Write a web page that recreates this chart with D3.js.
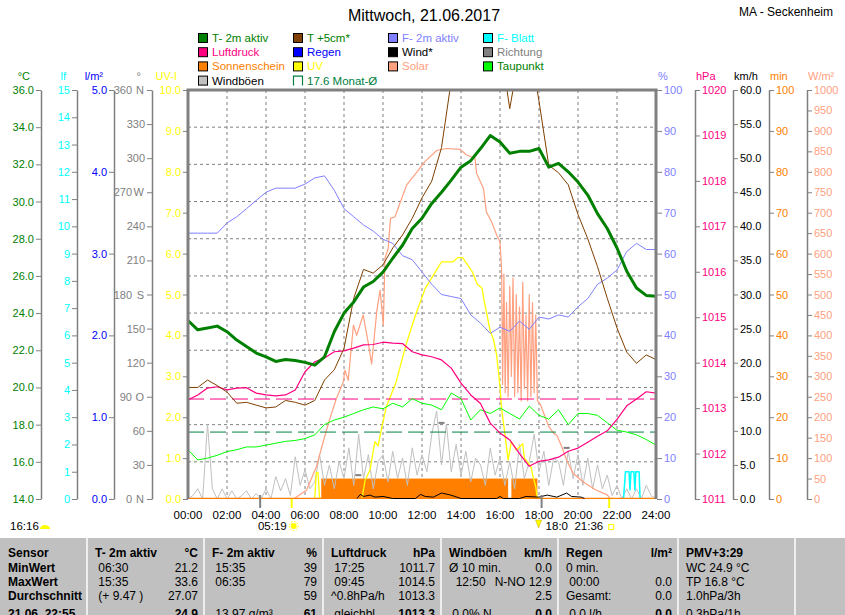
<!DOCTYPE html>
<html>
<head>
<meta charset="utf-8">
<script src="https://cdn.jsdelivr.net/npm/d3@7"></script>
<style>
body { margin: 0; background: #fff; }
svg { display: block; font-family: "Liberation Sans", Arial, sans-serif; }
</style>
</head>
<body>
<div id="chart"></div>
<script>
// ---- data ----
var times30 = ["00:00","00:30","01:00","01:30","02:00","02:30","03:00","03:30","04:00","04:30",
  "05:00","05:30","06:00","06:30","07:00","07:30","08:00","08:30","09:00","09:30",
  "10:00","10:30","11:00","11:30","12:00","12:30","13:00","13:30","14:00","14:30",
  "15:00","15:30","16:00","16:30","17:00","17:30","18:00","18:30","19:00","19:30",
  "20:00","20:30","21:00","21:30","22:00","22:30","23:00","23:30","24:00"];

var temp2m = [23.6,23.1,23.2,23.3,23.0,22.55,22.2,21.85,21.65,21.4,
  21.5,21.45,21.35,21.2,21.65,23.0,24.0,24.6,25.4,25.7,
  26.2,26.95,27.65,28.55,29.1,29.9,30.5,31.15,31.85,32.2,
  32.85,33.55,33.2,32.6,32.7,32.7,32.85,31.85,32.05,31.6,
  31.05,30.35,29.35,28.55,27.5,26.25,25.35,24.95,24.9];

var temp5cm = [20.0,20.0,20.4,20.1,19.75,19.15,19.2,19.05,18.9,18.95,
  19.3,19.2,19.05,19.3,20.4,20.95,22.1,24.8,26.35,26.15,
  26.6,27.5,28.2,29.1,30.2,31.1,32.9,36.5,39.0,40.5,
  41.0,40.5,38.5,35.0,38.0,38.5,35.4,31.95,31.55,30.9,
  29.3,28.0,26.5,24.8,23.2,21.9,21.3,21.75,21.5];

var hum2m = [65,65,65,65,67.5,69,71,73,75,76,
  76,76,77,78.5,79,75.5,71,69,67,65.5,
  63.5,62.5,59.5,58.5,55.5,52.5,50,49.5,49,45,
  43,40.5,42,41,43.5,41.5,44.5,44,45,44.5,
  47,49,52.5,54,56,60.5,62.5,61,61];

var pressure = [1013.18,1013.29,1013.44,1013.47,1013.4,1013.44,1013.45,1013.33,1013.29,1013.27,
  1013.29,1013.4,1013.8,1014.02,1014.1,1014.24,1014.26,1014.32,1014.39,1014.4,
  1014.45,1014.43,1014.42,1014.24,1014.17,1014.13,1014.06,1013.88,1013.55,1013.29,
  1013.1,1012.67,1012.45,1012.3,1012.0,1011.72,1011.83,1011.86,1011.92,1012.05,
  1012.12,1012.25,1012.38,1012.5,1012.75,1013.05,1013.2,1013.36,1013.33];

var dewPoint = [16.65,16.1,16.2,16.35,16.55,16.65,16.8,16.8,16.9,17.0,
  17.1,17.15,17.25,17.45,18.0,18.25,18.4,18.6,18.8,18.95,
  18.85,19.15,18.95,19.4,19.15,19.05,18.8,19.7,19.4,18.25,
  18.8,18.6,18.9,18.6,18.3,19.0,18.5,18.3,18.8,18.0,
  18.6,18.6,18.5,18.1,17.7,17.6,17.45,17.2,16.9];

// gusts km/h, one value per 15 minutes starting 00:00
var gust15 = [0,0.5,1.5,0, 11.0,1.5,0,1.5, 0,1.2,0,0.5, 1.2,0,0.8,0,
  1.5,0,3.3,1.2, 3.0,0.5,6.2,2.0, 4.3,1.5,2.5,6.5, 2.0,5.0,1.5,5.5,
  3.0,7.5,2.0,9.5, 3.0,6.5,1.5,5.5, 6.5,2.5,7.0,3.0, 6.0,2.0,7.5,3.5,
  6.5,4.0,9.5,12.9, 5.0,11.0,4.0,8.0, 3.5,7.0,2.5,6.0, 5.0,2.0,7.5,3.5,
  6.0,2.0,5.5,1.5, 8.0,3.0,5.5,9.5, 4.0,7.0,2.0,6.0, 5.5,2.0,7.0,3.0,
  6.5,2.0,6.0,1.5, 5.0,1.5,3.5,0.5, 2.0,0,1.5,0, 1.5,0,2.0,0.5, 0];

var uvIndex = [["00:00",0],["06:30",0],["06:35",0.65],["06:40",0.65],["06:45",0],["08:55",0],
  ["09:05",0.46],["09:20",0.71],["09:35",1.4],["09:45",1.3],["09:55",1.7],["10:10",2.25],
  ["10:40",2.85],["11:10",3.75],["11:40",4.5],["12:10",5.15],["12:45",5.6],["13:00",5.8],
  ["13:35",5.8],["13:50",5.9],["14:05",5.9],["14:35",5.55],["14:50",5.25],["15:05",5.15],
  ["15:10",4.9],["15:20",4.5],["15:30",4.1],["15:40",3.9],["15:50",3.5],["16:00",2.75],
  ["16:05",2.2],["16:15",1.6],["16:25",0.95],["16:35",1.4],["16:50",1.2],["17:10",1.35],
  ["17:15",1.0],["17:35",0.8],["17:40",0.6],["17:50",0.3],["17:55",0],["24:00",0]];

var solar = [["00:00",0],["05:25",0],["06:05",22],["06:35",79],["06:55",137],["07:15",193],
  ["07:35",242],["07:58",287],["08:03",315],["08:13",290],["08:29",425],["08:39",400],
  ["08:59",450],["09:15",380],["09:25",330],["09:41",460],["09:51",511],["10:01",425],
  ["10:06",588],["10:16",613],["10:23",686],["10:37",690],["10:52",723],["11:13",768],
  ["11:44",799],["12:09",825],["12:45",852],["13:16",857],["13:57",855],["14:17",841],
  ["14:43",833],["14:48",796],["15:09",760],["15:18",702],["15:34",678],["15:50",645],
  ["16:00",629],["16:05",560],["16:08",280],["16:12",550],["16:16",260],["16:20",480],
  ["16:25",250],["16:30",520],["16:35",300],["16:40",540],["16:45",250],["16:50",500],
  ["16:55",260],["17:00",470],["17:05",240],["17:10",530],["17:15",270],["17:20",450],
  ["17:25",240],["17:30",500],["17:35",250],["17:40",480],["17:45",260],["17:50",450],
  ["17:55",240],["18:05",230],["18:30",177],["18:45",161],["18:55",156],["19:10",128],
  ["19:25",95],["19:45",63],["20:15",42],["20:55",22],["21:30",10],["21:40",0],["24:00",0]];

var wind = [["08:40",0],["08:50",0.6],["09:00",0.3],["09:20",0.5],["09:35",0.2],["10:00",0.3],
  ["10:30",0],["11:40",0],["11:55",0.6],["12:10",0.3],["12:35",0.2],["13:00",0.8],
  ["13:20",0.6],["13:35",0.4],["14:00",0],["15:50",0],["16:00",0.3],["16:10",0],
  ["17:00",0],["17:20",0.3],["18:00",0.2],["18:25",0.5],["18:55",0.2],["19:25",0.8],
  ["19:40",0.3],["20:10",0.2],["20:20",0]];

var leafWet = [["22:20",0],["22:26",1],["22:37",1],["22:40",0.33],["22:43",1],["22:52",1],
  ["22:55",0.33],["22:58",1],["23:08",1],["23:11",0]];

var windDir = [["08:44",21],["13:00",67],["19:25",45]];

var sunPeriods = [["06:50","16:25"],["16:35","17:55"]];
var sunPerSlot = 5; // minutes of sunshine per 5-min slot

var monthMean = 17.6;   // Monat-Ø °C
var pressureMean = 1013.2;

var sunrise = "05:19", sunset = "21:36", moonMark = "18:08", moonMark2 = "03:42";

var ticksC = [14,16,18,20,22,24,26,28,30,32,34,36];
var ticksLf = [0,1,2,3,4,5,6,7,8,9,10,11,12,13,14,15];
var ticksRain = [0,1,2,3,4,5];
var ticksDir = [0,30,60,90,120,150,180,210,240,270,300,330,360];
var ticksUV = [0,1,2,3,4,5,6,7,8,9,10];
var ticksHum = [0,10,20,30,40,50,60,70,80,90,100];
var ticksHpa = [1011,1012,1013,1014,1015,1016,1017,1018,1019,1020];
var ticksKmh = [0,5,10,15,20,25,30,35,40,45,50,55,60];
var ticksMin = [0,10,20,30,40,50,60,70,80,90,100];
var ticksSol = [0,50,100,150,200,250,300,350,400,450,500,550,600,650,700,750,800,850,900,950,1000];
var timeTicks = [0,2,4,6,8,10,12,14,16,18,20,22,24];

var legendNames = [["T- 2m aktiv","Luftdruck","Sonnenschein","Windböen"],
  ["T +5cm*","Regen","UV",monthMean + " Monat-Ø"],
  ["F- 2m aktiv","Wind*","Solar"],
  ["F- Blatt","Richtung","Taupunkt"]];

var tableRowLabels = ["Sensor","MinWert","MaxWert","Durchschnitt","21.06. 22:55"];
var tableLeft = [
  ["T- 2m aktiv"," 06:30"," 15:35"," (+ 9.47 )",""],
  ["F- 2m aktiv"," 15:35"," 06:35",""," 13.97 g/m³"],
  ["Luftdruck"," 17:25"," 09:45","^0.8hPa/h"," gleichbl."],
  ["Windböen","Ø 10 min.","  12:50",""," 0.0% N"],
  ["Regen","0 min."," 00:00","Gesamt:"," 0.0 l/h"],
  ["PMV+3:29","WC 24.9 °C","TP 16.8 °C","1.0hPa/3h","0.3hPa/1h"]];
var tableRight = [
  ["°C","21.2","33.6","27.07","24.9"],
  ["%","39","79","59","61"],
  ["hPa","1011.7","1014.5","1013.3","1013.3"],
  ["km/h","0.0","N-NO 12.9","2.5","0.0"],
  ["l/m²","","0.0","0.0","0.0"],
  ["","","","",""]];

// ---- styles ----
var legendStyle = {
  "T- 2m aktiv": {sq: "#008000", txt: "#008000"},
  "Luftdruck": {sq: "#ff0080", txt: "#ff0080"},
  "Sonnenschein": {sq: "#ff8000", txt: "#ff8000"},
  "Windböen": {sq: "#c0c0c0", txt: "#000000"},
  "T +5cm*": {sq: "#804000", txt: "#008000"},
  "Regen": {sq: "#0000ff", txt: "#0000ff"},
  "UV": {sq: "#ffff00", txt: "#ffff00"},
  "F- 2m aktiv": {sq: "#8080ff", txt: "#8080ff"},
  "Wind*": {sq: "#000000", txt: "#000000"},
  "Solar": {sq: "#ffa080", txt: "#ffa080"},
  "F- Blatt": {sq: "#00ffff", txt: "#00ffff"},
  "Richtung": {sq: "#808080", txt: "#808080"},
  "Taupunkt": {sq: "#00ff00", txt: "#008000"}
};

function hrs(s) { var p = s.split(":"); return +p[0] + (+p[1]) / 60; }

var W = 845, H = 615;
var L = 188, R = 656, T = 90, B = 499;

var svg = d3.select("#chart").append("svg")
  .attr("width", W).attr("height", H);

var x = d3.scaleLinear().domain([0, 24]).range([L, R]);
var yC = d3.scaleLinear().domain([14, 36]).range([B, T]);
var yLf = d3.scaleLinear().domain([0, 15]).range([B, T]);
var yRain = d3.scaleLinear().domain([0, 5]).range([B, T]);
var yDir = d3.scaleLinear().domain([0, 360]).range([B, T]);
var yUV = d3.scaleLinear().domain([0, 10]).range([B, T]);
var yHum = d3.scaleLinear().domain([0, 100]).range([B, T]);
var yP = d3.scaleLinear().domain([1011, 1020]).range([B, T]);
var yKmh = d3.scaleLinear().domain([0, 60]).range([B, T]);
var yMin = d3.scaleLinear().domain([0, 100]).range([B, T]);
var ySol = d3.scaleLinear().domain([0, 1000]).range([B, T]);

// title
svg.append("text").attr("x", 424).attr("y", 21).attr("text-anchor", "middle")
  .style("font-size", "16px").text("Mittwoch, 21.06.2017");
svg.append("text").attr("x", 833).attr("y", 16).attr("text-anchor", "end")
  .style("font-size", "12px").text("MA - Seckenheim");

// legend
var legX = [198, 293, 388, 483];
legendNames.forEach(function(col, ci) {
  col.forEach(function(name, ri) {
    var cy = 38 + ri * 14.2;
    var st = legendStyle[name];
    if (name.indexOf("Monat") >= 0) {
      svg.append("path")
        .attr("d", "M" + (legX[ci] + 0.5) + "," + (cy + 5) + "V" + (cy - 4.5) + "H" + (legX[ci] + 9.5) + "V" + (cy + 5))
        .attr("fill", "none").attr("stroke", "#008040").attr("stroke-width", 1.2);
      st = {txt: "#008040"};
    } else {
      svg.append("rect").attr("x", legX[ci] + 0.5).attr("y", cy - 4.5)
        .attr("width", 9).attr("height", 9)
        .attr("fill", st.sq).attr("stroke", "#000").attr("stroke-width", 1);
    }
    svg.append("text").attr("x", legX[ci] + 14).attr("y", cy + 4)
      .style("font-size", "11.5px").attr("fill", st.txt).text(name);
  });
});

// grid
var plot = svg.append("g");
svg.append("clipPath").attr("id", "clip").append("rect")
  .attr("x", L).attr("y", T).attr("width", R - L).attr("height", B - T);

plot.selectAll(".hgrid").data(ticksC.slice(1, -1)).enter().append("line")
  .attr("x1", L).attr("x2", R).attr("y1", function(d) { return yC(d); }).attr("y2", function(d) { return yC(d); })
  .attr("stroke", "#808080").attr("stroke-dasharray", "3,3");
plot.selectAll(".vgrid").data(timeTicks.slice(1, -1)).enter().append("line")
  .attr("y1", T).attr("y2", B).attr("x1", function(d) { return x(d); }).attr("x2", function(d) { return x(d); })
  .attr("stroke", "#808080").attr("stroke-dasharray", "3,3");

var marks = plot.append("g").attr("clip-path", "url(#clip)");

function t30(d, i) { return x(hrs(times30[i])); }
function line(data, xf, yf, color, w, dash) {
  marks.append("path").datum(data)
    .attr("d", d3.line().x(xf).y(yf))
    .attr("fill", "none").attr("stroke", color).attr("stroke-width", w)
    .attr("stroke-linejoin", "round")
    .attr("stroke-dasharray", dash || null);
}

// sunshine
marks.selectAll(".sun").data(sunPeriods).enter().append("rect")
  .attr("x", function(d) { return x(hrs(d[0])); })
  .attr("width", function(d) { return x(hrs(d[1])) - x(hrs(d[0])); })
  .attr("y", yMin(sunPerSlot)).attr("height", yMin(0) - yMin(sunPerSlot))
  .attr("fill", "#ff8000");

// gusts
line(gust15, function(d, i) { return x(i / 4); }, function(d) { return yKmh(d); }, "#c0c0c0", 1);

// wind direction marks
marks.selectAll(".dir").data(windDir).enter().append("line")
  .attr("x1", function(d) { return x(hrs(d[0])) - 3; })
  .attr("x2", function(d) { return x(hrs(d[0])) + 3; })
  .attr("y1", function(d) { return yDir(d[1]); }).attr("y2", function(d) { return yDir(d[1]); })
  .attr("stroke", "#808080").attr("stroke-width", 2);

// leaf wetness
line(leafWet, function(d) { return x(hrs(d[0])); }, function(d) { return yLf(d[1]); }, "#00ffff", 1.5);

// solar
line(solar, function(d) { return x(hrs(d[0])); }, function(d) { return ySol(d[1]); }, "#ffa080", 1.2);

// UV
line(uvIndex, function(d) { return x(hrs(d[0])); }, function(d) { return yUV(d[1]); }, "#ffff00", 1.3);

// sunshine zero line on top of the other zero lines
line([0, 24], function(d) { return x(d); }, function() { return yMin(0) - 0.5; }, "#ff8000", 1.5);

// wind
line(wind, function(d) { return x(hrs(d[0])); }, function(d) { return yKmh(d[1]) - 0.5; }, "#000000", 1);

// mean lines
line([0, 24], function(d) { return x(d); }, function() { return yP(pressureMean); }, "#ff0080", 1, "16,6");
line([0, 24], function(d) { return x(d); }, function() { return yC(monthMean); }, "#008040", 1, "16,6");

// dew point
line(dewPoint, t30, function(d) { return yC(d); }, "#00ff00", 1);
// pressure
line(pressure, t30, function(d) { return yP(d); }, "#ff0080", 1.2);
// humidity
line(hum2m, t30, function(d) { return yHum(d); }, "#8080ff", 1);
// soil surface temperature
line(temp5cm, t30, function(d) { return yC(d); }, "#804000", 1);
// air temperature
line(temp2m, t30, function(d) { return yC(d); }, "#008000", 3);

// frame
svg.append("path")
  .attr("d", "M" + L + "," + B + "V" + T + "H" + R + "V" + B)
  .attr("fill", "none").attr("stroke", "#808080").attr("stroke-width", 3);

// axes
function styleAxis(g, color) {
  g.attr("font-family", null).attr("font-size", null);
  g.select(".domain").attr("stroke", "#808080").attr("stroke-width", 1.5);
  g.selectAll(".tick line").attr("stroke", "#808080");
  g.selectAll(".tick text").attr("fill", color).style("font-size", "11px");
}
function leftAxis(scale, ax, ticks, fmt, color, title) {
  var g = svg.append("g").attr("transform", "translate(" + ax + ",0)")
    .call(d3.axisLeft(scale).tickValues(ticks).tickFormat(fmt).tickSize(5).tickSizeOuter(0).tickPadding(2));
  styleAxis(g, color);
  svg.append("text").attr("x", ax - 11).attr("y", 80).attr("text-anchor", "end")
    .attr("fill", color).style("font-size", "11px").text(title);
  return g;
}
function rightAxis(scale, ax, ticks, fmt, color, title) {
  var g = svg.append("g").attr("transform", "translate(" + ax + ",0)")
    .call(d3.axisRight(scale).tickValues(ticks).tickFormat(fmt).tickSize(5).tickSizeOuter(0).tickPadding(2));
  styleAxis(g, color);
  svg.append("text").attr("x", ax + 1).attr("y", 80)
    .attr("fill", color).style("font-size", "11px").text(title);
  return g;
}

leftAxis(yC, 41, ticksC, d3.format(".1f"), "#008000", "°C");
leftAxis(yLf, 77, ticksLf, d3.format("d"), "#00ffff", "lf");
leftAxis(yRain, 114, ticksRain, d3.format(".1f"), "#0000ff", "l/m²");
var dirAxis = leftAxis(yDir, 152, ticksDir, d3.format("d"), "#808080", "°");
var compass = {0: "N", 90: "O", 180: "S", 270: "W", 360: "N"};
dirAxis.selectAll(".tick").filter(function(d) { return compass[d] !== undefined; })
  .each(function(d) {
    var t = d3.select(this);
    t.select("text").attr("x", -20);
    t.append("text").attr("x", -8).attr("dy", "0.32em").attr("text-anchor", "end")
      .attr("fill", "#808080").style("font-size", "11px").text(compass[d]);
  });
leftAxis(yUV, L, ticksUV, d3.format(".1f"), "#ffff00", "UV-I").select(".domain").remove();

rightAxis(yHum, R + 1, ticksHum, d3.format("d"), "#8080ff", "%").select(".domain").remove();
rightAxis(yP, 695, ticksHpa, d3.format("d"), "#ff0080", "hPa");
rightAxis(yKmh, 733, ticksKmh, d3.format(".1f"), "#000000", "km/h");
rightAxis(yMin, 769, ticksMin, d3.format("d"), "#ff8000", "min");
rightAxis(ySol, 807, ticksSol, d3.format("d"), "#ffa080", "W/m²");

// time labels
svg.selectAll(".tlab").data(timeTicks).enter().append("text")
  .attr("x", function(d) { return x(d); }).attr("y", 519).attr("text-anchor", "middle")
  .style("font-size", "11.5px")
  .text(function(d) { return (d < 10 ? "0" : "") + d + ":00"; });

// sun / moon markers
[sunrise, sunset].forEach(function(s) {
  svg.append("line").attr("x1", x(hrs(s))).attr("x2", x(hrs(s))).attr("y1", B).attr("y2", 508)
    .attr("stroke", "#ffff00").attr("stroke-width", 2);
});
[moonMark2, moonMark].forEach(function(s) {
  svg.append("line").attr("x1", x(hrs(s))).attr("x2", x(hrs(s))).attr("y1", 495).attr("y2", 508)
    .attr("stroke", "#808080").attr("stroke-width", 2);
});
svg.append("text").attr("x", x(hrs(sunrise)) - 5).attr("y", 530).attr("text-anchor", "end")
  .style("font-size", "11.5px").text(sunrise);
var sx = x(hrs(sunrise)) + 2, sy = 526;
svg.append("circle").attr("cx", sx).attr("cy", sy).attr("r", 3).attr("fill", "#ffff00");
svg.append("circle").attr("cx", sx).attr("cy", sy).attr("r", 4.5).attr("fill", "none")
  .attr("stroke", "#ffff00").attr("stroke-dasharray", "1.5,1.5");

svg.append("text").attr("x", x(hrs(sunset)) - 6).attr("y", 530).attr("text-anchor", "end")
  .style("font-size", "11.5px").text(sunset);
svg.append("rect").attr("x", x(hrs(sunset)) - 0.5).attr("y", 524.5).attr("width", 5).attr("height", 5)
  .attr("fill", "none").attr("stroke", "#ffff00");

svg.append("text").attr("x", x(hrs(moonMark)) + 4).attr("y", 530)
  .style("font-size", "11.5px").text(moonMark.slice(0, 4));
svg.append("path")
  .attr("d", "M" + (x(hrs(moonMark)) - 6) + ",520 l3,8 l3,-8 z")
  .attr("fill", "#ffff00").attr("stroke", "#c0a000").attr("stroke-width", 0.5);

svg.append("text").attr("x", 10).attr("y", 530).style("font-size", "11.5px").text("16:16");
svg.append("path").attr("d", "M40,529 a5,4 0 0 1 10,0 z").attr("fill", "#ffff00");

// table
var tableTop = 538;
svg.append("rect").attr("x", 0).attr("y", tableTop).attr("width", W).attr("height", H - tableTop)
  .attr("fill", "#c0c0c0");
var colEdges = [0, 87, 204, 323, 441, 558, 678, 795, W];
colEdges.slice(1, -1).forEach(function(cx) {
  svg.append("line").attr("x1", cx).attr("x2", cx).attr("y1", tableTop).attr("y2", H)
    .attr("stroke", "#eeeeee").attr("stroke-width", 2);
});
var rowY = [557, 571.5, 585.8, 600, 618];
tableRowLabels.forEach(function(lab, r) {
  svg.append("text").attr("x", 8).attr("y", rowY[r])
    .style("font-size", "12px").style("font-weight", "bold").text(lab);
});
tableLeft.forEach(function(col, c) {
  col.forEach(function(txt, r) {
    svg.append("text").attr("x", colEdges[c + 1] + 8).attr("y", rowY[r])
      .style("font-size", "12px").style("white-space", "pre")
      .style("font-weight", r === 0 ? "bold" : "normal").text(txt);
  });
});
tableRight.forEach(function(col, c) {
  col.forEach(function(txt, r) {
    svg.append("text").attr("x", colEdges[c + 2] - 6).attr("y", rowY[r]).attr("text-anchor", "end")
      .style("font-size", "12px")
      .style("font-weight", (r === 0 || r === 4) ? "bold" : "normal").text(txt);
  });
});
</script>
</body>
</html>
